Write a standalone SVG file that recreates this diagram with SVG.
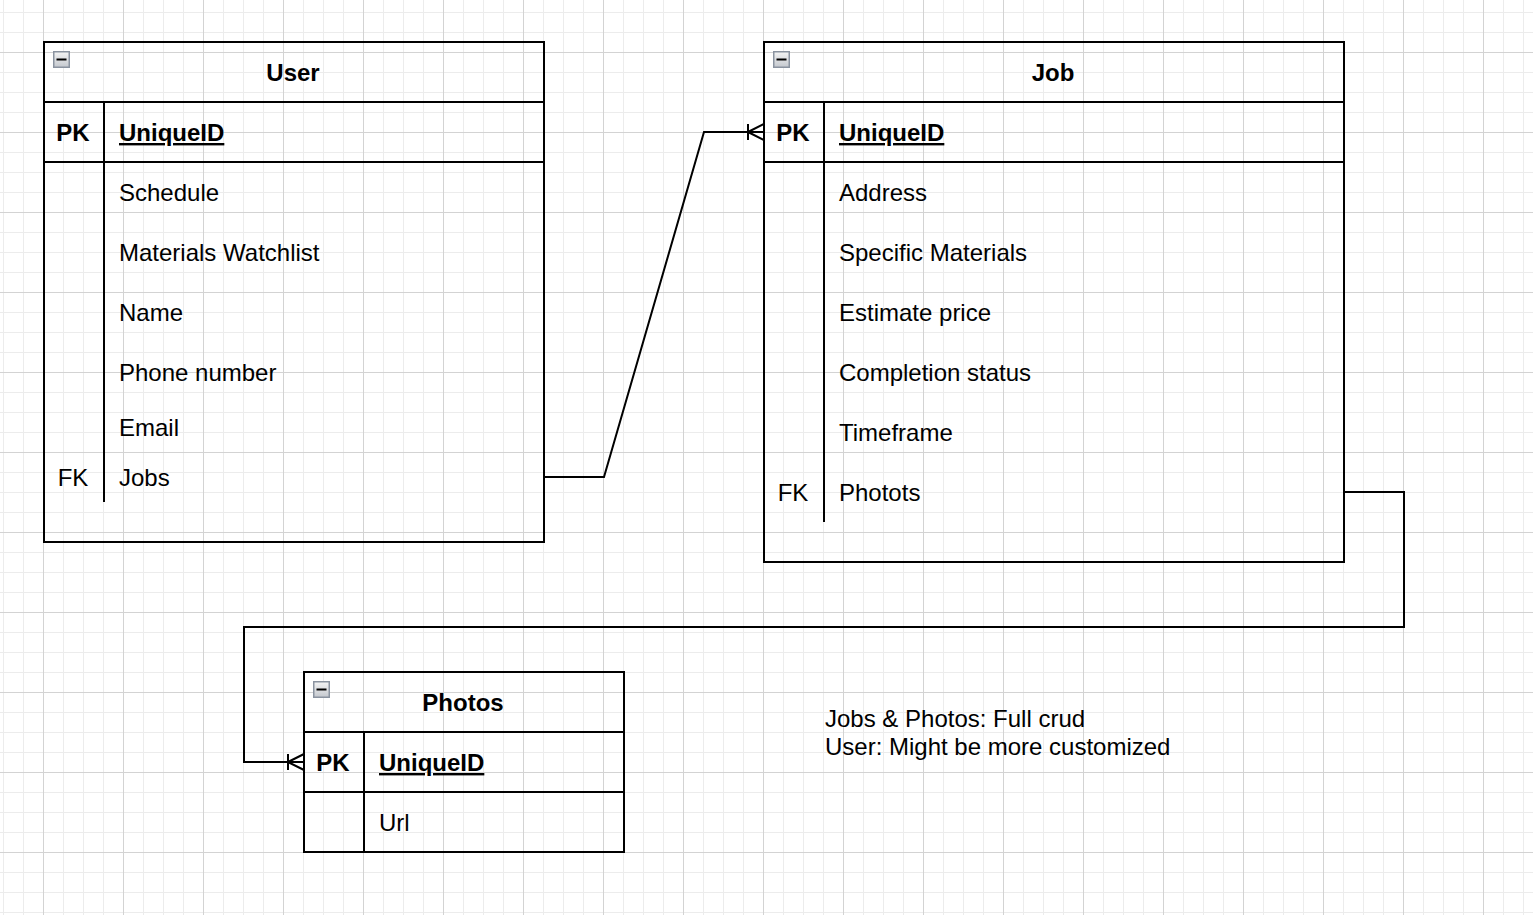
<svg xmlns="http://www.w3.org/2000/svg" width="1533" height="915" viewBox="0 0 1533 915">
<style>
.t{font-family:"Liberation Sans",Arial,Helvetica,sans-serif;font-size:24px;fill:#000}
.b{font-weight:bold}
.u{text-decoration:underline}
.m{text-anchor:middle}
.box{fill:none;stroke:#000;stroke-width:2}
.ln{fill:none;stroke:#000;stroke-width:2}
.con{fill:none;stroke:#000;stroke-width:2;stroke-linejoin:miter}
</style>
<defs>
<pattern id="minor" patternUnits="userSpaceOnUse" x="3" y="12" width="20" height="20">
<path d="M0 0.5H20M0.5 0V20" fill="none" stroke="#ececec" stroke-width="1"/>
</pattern>
<pattern id="major" patternUnits="userSpaceOnUse" x="43" y="52" width="80" height="80">
<path d="M0 0.5H80M0.5 0V80" fill="none" stroke="#d3d3d3" stroke-width="1"/>
</pattern>
<linearGradient id="mg" x1="0" y1="0" x2="0" y2="1">
<stop offset="0" stop-color="#f4f4f4"/>
<stop offset="1" stop-color="#c4c8ce"/>
</linearGradient>
<g id="minus">
<rect x="0.75" y="0.75" width="15.5" height="15.5" fill="url(#mg)" stroke="#8a93a0" stroke-width="1.5"/>
<path d="M3.5 8.5H13.5" stroke="#000" stroke-width="2"/>
</g>
</defs>
<rect width="1533" height="915" fill="#fff"/>
<rect width="1533" height="915" fill="url(#minor)"/>
<rect width="1533" height="915" fill="url(#major)"/>

<g id="connectors">
<polyline class="con" points="544,477 604,477 704,132 764,132"/>
<path class="ln" d="M748 124V140M748 132L764 124M748 132L764 140"/>
<polyline class="con" points="1344,492 1404,492 1404,627 244,627 244,762 304,762"/>
<path class="ln" d="M288 754V770M288 762L304 754M288 762L304 770"/>
</g>

<g id="user">
<rect class="box" x="44" y="42" width="500" height="500" fill="#fff"/>
<use href="#minus" x="53" y="51"/>
<text class="t b m" x="293" y="81">User</text>
<path class="ln" d="M44 102H544M44 162H544M104 102V502"/>
<text class="t b m" x="73" y="141">PK</text>
<text class="t b u" x="119" y="141">UniqueID</text>
<text class="t" x="119" y="201">Schedule</text>
<text class="t" x="119" y="261">Materials Watchlist</text>
<text class="t" x="119" y="321">Name</text>
<text class="t" x="119" y="381">Phone number</text>
<text class="t" x="119" y="436">Email</text>
<text class="t m" x="73" y="486">FK</text>
<text class="t" x="119" y="486">Jobs</text>
</g>

<g id="job">
<rect class="box" x="764" y="42" width="580" height="520"/>
<use href="#minus" x="773" y="51"/>
<text class="t b m" x="1053" y="81">Job</text>
<path class="ln" d="M764 102H1344M764 162H1344M824 102V522"/>
<text class="t b m" x="793" y="141">PK</text>
<text class="t b u" x="839" y="141">UniqueID</text>
<text class="t" x="839" y="201">Address</text>
<text class="t" x="839" y="261">Specific Materials</text>
<text class="t" x="839" y="321">Estimate price</text>
<text class="t" x="839" y="381">Completion status</text>
<text class="t" x="839" y="441">Timeframe</text>
<text class="t m" x="793" y="501">FK</text>
<text class="t" x="839" y="501">Photots</text>
</g>

<g id="photos">
<rect class="box" x="304" y="672" width="320" height="180"/>
<use href="#minus" x="313" y="681"/>
<text class="t b m" x="463" y="711">Photos</text>
<path class="ln" d="M304 732H624M304 792H624M364 732V852"/>
<text class="t b m" x="333" y="771">PK</text>
<text class="t b u" x="379" y="771">UniqueID</text>
<text class="t" x="379" y="831">Url</text>
</g>

<g id="note">
<text class="t" x="825" y="727">Jobs &amp; Photos: Full crud</text>
<text class="t" x="825" y="755">User: Might be more customized</text>
</g>
</svg>
